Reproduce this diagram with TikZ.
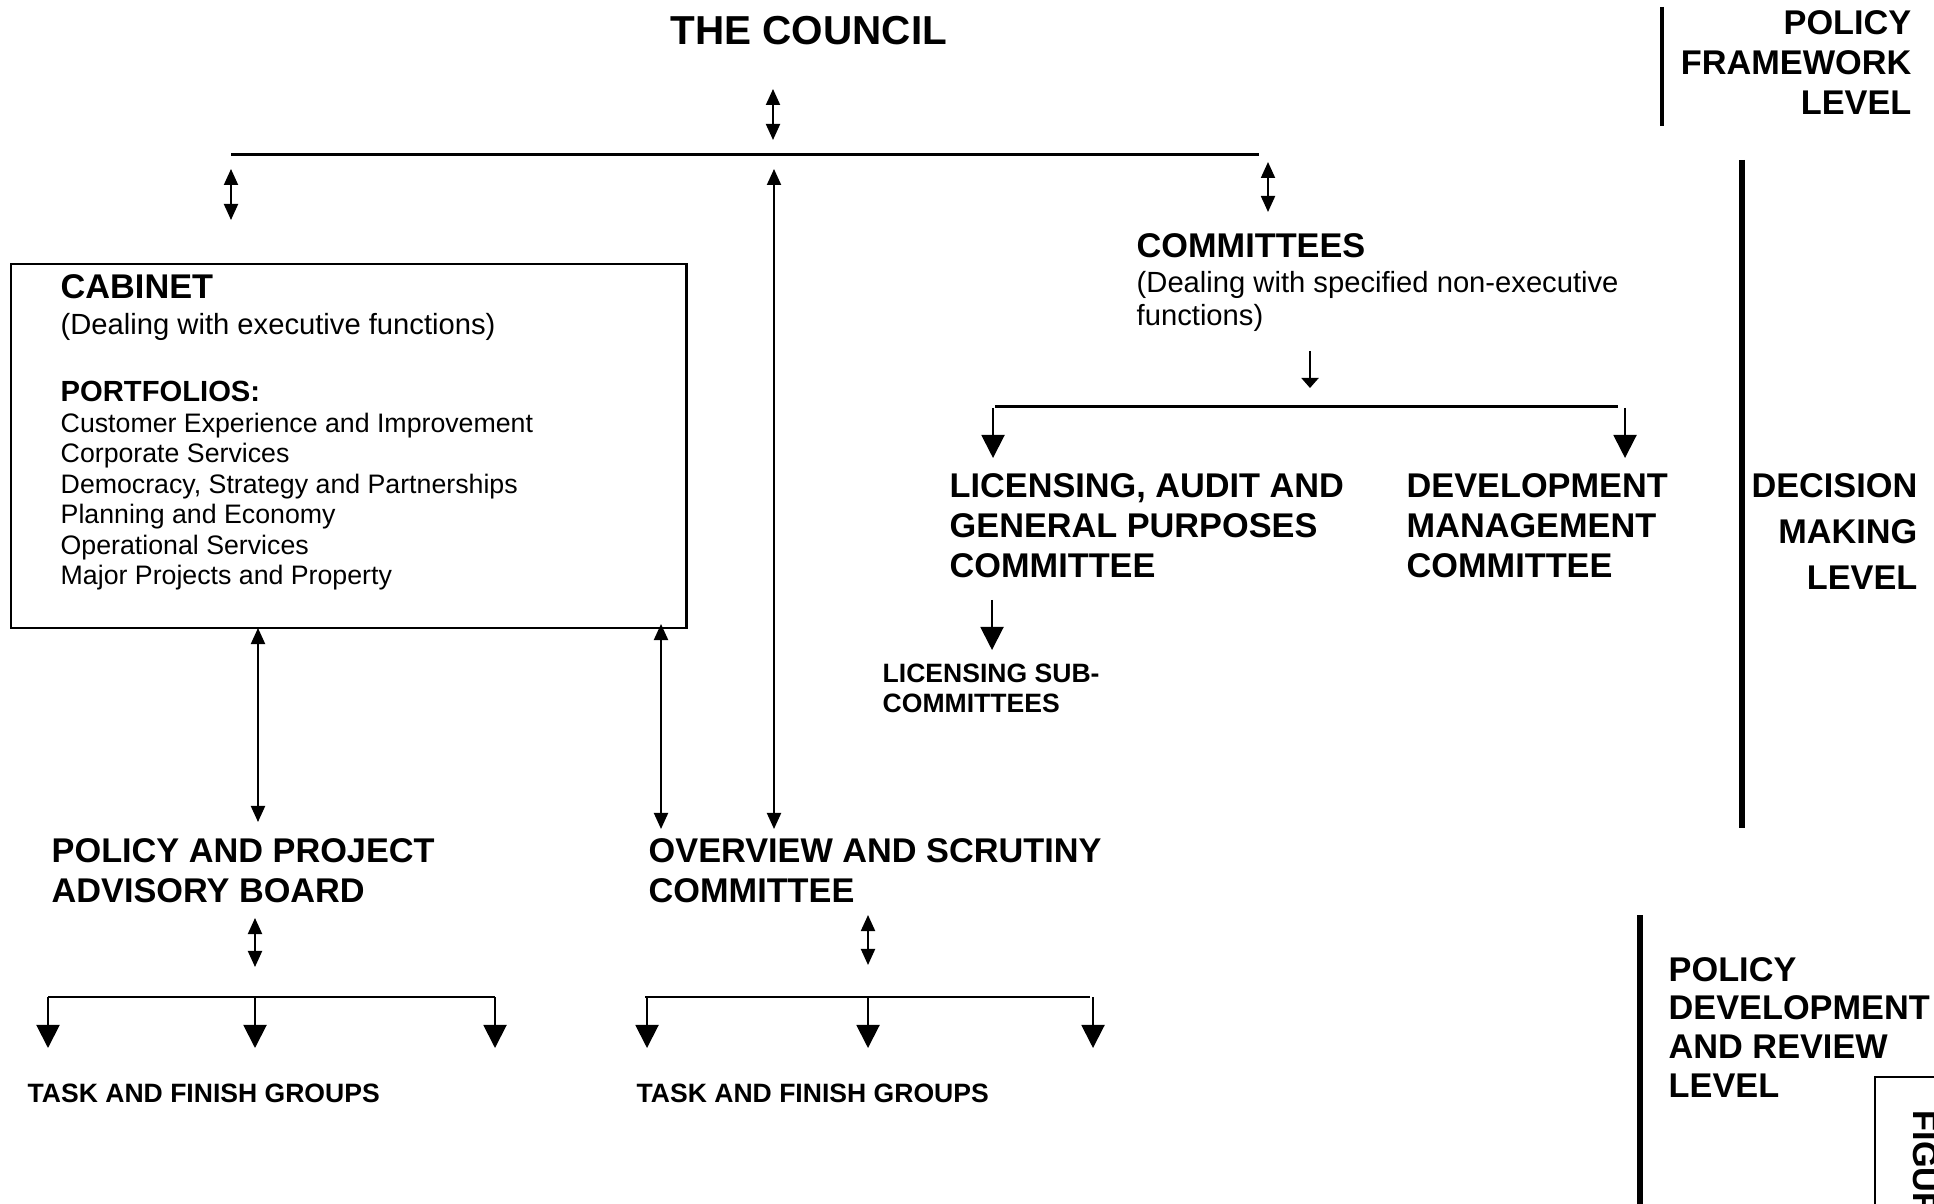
\documentclass[tikz,border=0pt]{standalone}
\usepackage{fontspec}
\setmainfont{Liberation Sans}
\usetikzlibrary{arrows.meta}

\tikzset{
  hd/.style={font=\bfseries\fontsize{9.75}{11.38}\selectfont, inner sep=0pt, align=left, anchor=base west},
  subt/.style={font=\fontsize{8.3}{9.39}\selectfont, inner sep=0pt, align=left, anchor=base west},
  small/.style={font=\bfseries\fontsize{7.55}{8.54}\selectfont, inner sep=0pt, align=left, anchor=base west},
  bus/.style={line width=0.85pt},
  bar/.style={line width=1.7pt},
  dbl/.style={line width=0.55pt, {Triangle[width=0.14cm,length=0.16cm]}-{Triangle[width=0.14cm,length=0.16cm]}},
  drop/.style={line width=0.55pt, -{Triangle[width=0.23cm,length=0.23cm]}},
}

\begin{document}
\begin{tikzpicture}[x=0.01cm, y=-0.01cm]
  \useasboundingbox (0,0) rectangle (1934,1204);
  \clip (0,0) rectangle (1934,1204);

  % council and the top bus
  \node[hd, font=\bfseries\fontsize{11.5}{13}\selectfont] (council) at (670,45) {THE COUNCIL};
  \coordinate (cup) at (773,89);
  \coordinate (cdown) at (773,140);
  \coordinate (busL) at (231,155);
  \coordinate (busR) at (1259,155);
  \draw[dbl] (cup) -- (cdown);
  \draw[bus] (busL) -- (busR);

  % cabinet (multi-line nodes sit on their last baseline)
  \node[draw, line width=0.6pt, minimum width=6.75cm, minimum height=3.64cm,
        inner sep=0pt, anchor=north west] (cabinet) at (10,263) {};
  \node[hd] (cabtitle) at (60,299) {CABINET};
  \node[subt] (cabsub) at (60,335) {(Dealing with executive functions)};
  \node[hd, font=\bfseries\fontsize{8.3}{9.4}\selectfont] (portf) at (60,402) {PORTFOLIOS:};
  \node[subt, font=\fontsize{7.6}{8.68}\selectfont] (portlist) at (60,585)
    {Customer Experience and Improvement\\Corporate Services\\Democracy, Strategy and Partnerships\\Planning and Economy\\Operational Services\\Major Projects and Property};

  % committees
  \node[hd] (comtitle) at (1136,258) {COMMITTEES};
  \node[subt] (comsub) at (1136,326) {(Dealing with specified non-executive\\functions)};
  \node[hd] (lagp) at (949,578) {LICENSING, AUDIT AND\\GENERAL PURPOSES\\COMMITTEE};
  \node[hd] (devman) at (1406,578) {DEVELOPMENT\\MANAGEMENT\\COMMITTEE};
  \node[small] (licsub) at (882,713) {LICENSING SUB-\\COMMITTEES};

  % scrutiny level
  \node[hd, font=\bfseries\fontsize{9.75}{11.1}\selectfont] (ppab) at (51,902) {POLICY AND PROJECT\\ADVISORY BOARD};
  \node[hd, font=\bfseries\fontsize{9.75}{11.1}\selectfont] (osc) at (648,902) {OVERVIEW AND SCRUTINY\\COMMITTEE};
  \node[small] (tfgL) at (27,1102) {TASK AND FINISH GROUPS};
  \node[small] (tfgR) at (636,1102) {TASK AND FINISH GROUPS};

  % links from the bus
  \draw[dbl] (231,169) -- (231,220);
  \draw[dbl] (774,169) -- (774,829);
  \draw[dbl] (1268,162) -- (1268,212);

  % committees branch
  \draw[line width=0.55pt, -{Triangle[width=0.17cm,length=0.1cm]}] (1310,351) -- (1310,388);
  \draw[bus] (995,407) -- (1618,407);
  \draw[drop] (993,408) -- (993,458);
  \draw[drop] (1625,408) -- (1625,458);
  \draw[drop] (992,600) -- (992,650);

  % cabinet to the boards
  \draw[dbl] (258,628) -- (258,822);
  \draw[dbl] (661,624) -- (661,829);

  % task and finish groups
  \draw[dbl] (255,918) -- (255,967);
  \draw[bus] (48,997) -- (495,997);
  \foreach \xx in {48,255,495} \draw[drop] (\xx,997) -- (\xx,1048);
  \draw[dbl] (868,915) -- (868,965);
  \draw[bus] (645,997) -- (1090,997);
  \foreach \xx in {647,868,1093} \draw[drop] (\xx,997) -- (\xx,1048);

  % levels
  \draw[line width=1.4pt] (1662,7) -- (1662,126);
  \node[hd, font=\bfseries\fontsize{9.75}{11.38}\selectfont, align=right, anchor=base east] (lvlpol) at (1912,115) {POLICY\\FRAMEWORK\\LEVEL};
  \draw[bar] (1742,160) -- (1742,828);
  \node[hd, font=\bfseries\fontsize{9.75}{13.2}\selectfont, align=right, anchor=base east] (lvldec) at (1918,590) {DECISION\\MAKING\\LEVEL};
  \draw[bar] (1640,915) -- (1640,1220);
  \node[hd, font=\bfseries\fontsize{9.75}{10.95}\selectfont] (lvldev) at (1668,1097) {POLICY\\DEVELOPMENT\\AND REVIEW\\LEVEL};

  % figure tab
  \draw[line width=0.6pt] (1875,1077) rectangle (1990,1260);
  \node[hd, rotate=-90] (figtab) at (1913,1110) {FIGURE};
\end{tikzpicture}
\end{document}
